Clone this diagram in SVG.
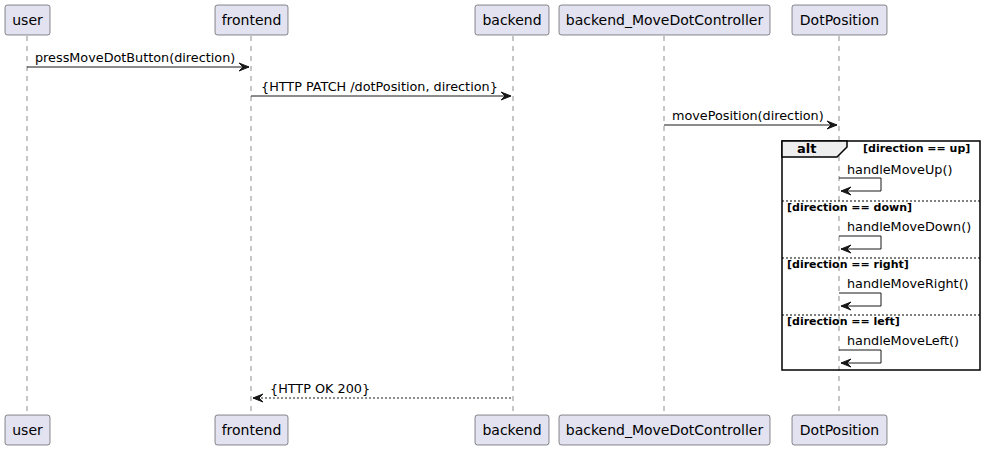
<svg xmlns="http://www.w3.org/2000/svg" width="986" height="451" viewBox="0 0 986 451">
<style>
.p rect{fill:#E2E2F0;stroke:#181818;stroke-width:0.5}
.p text{font-family:"DejaVu Sans",sans-serif;font-size:14px;fill:#000;text-anchor:middle}
.life{stroke:#181818;stroke-width:0.5;stroke-dasharray:5,5}
.msg{stroke:#181818;stroke-width:1;fill:none}
.ah{fill:#181818;stroke:#181818;stroke-width:1}
.t{font-family:"DejaVu Sans",sans-serif;font-size:12.8px;fill:#000}
.g{font-family:"DejaVu Sans",sans-serif;font-size:11px;font-weight:bold;fill:#000}
.sep{stroke:#000;stroke-width:1;stroke-dasharray:2,2}
</style>
<rect width="986" height="451" fill="#fff"/>
<g id="lifelines">
<line class="life" x1="27" y1="36" x2="27" y2="415"/>
<line class="life" x1="251" y1="36" x2="251" y2="415"/>
<line class="life" x1="513" y1="36" x2="513" y2="415"/>
<line class="life" x1="664" y1="36" x2="664" y2="415"/>
<line class="life" x1="839" y1="36" x2="839" y2="415"/>
</g>
<g id="user" class="p"><rect x="5" y="5" width="45" height="30" rx="2.5"/><text x="27.5" y="25">user</text><rect x="5" y="415" width="45" height="30" rx="2.5"/><text x="27.5" y="435">user</text></g>
<g id="frontend" class="p"><rect x="215" y="5" width="73" height="30" rx="2.5"/><text x="251.5" y="25">frontend</text><rect x="215" y="415" width="73" height="30" rx="2.5"/><text x="251.5" y="435">frontend</text></g>
<g id="backend" class="p"><rect x="475" y="5" width="74" height="30" rx="2.5"/><text x="512" y="25">backend</text><rect x="475" y="415" width="74" height="30" rx="2.5"/><text x="512" y="435">backend</text></g>
<g id="backend_MoveDotController" class="p"><rect x="559" y="5" width="211" height="30" rx="2.5"/><text x="664.5" y="25">backend_MoveDotController</text><rect x="559" y="415" width="211" height="30" rx="2.5"/><text x="664.5" y="435">backend_MoveDotController</text></g>
<g id="DotPosition" class="p"><rect x="792" y="5" width="95" height="30" rx="2.5"/><text x="839.5" y="25">DotPosition</text><rect x="792" y="415" width="95" height="30" rx="2.5"/><text x="839.5" y="435">DotPosition</text></g>
<g id="alt">
<rect x="782" y="141" width="198" height="229" fill="none" stroke="#000" stroke-width="1.5"/>
<polygon points="782,141 847,141 847,147 837,157 782,157" fill="#EEEEEE" stroke="#000" stroke-width="1.5"/>
<text x="797" y="153" class="t" style="font-weight:bold;font-size:13px">alt</text>
<text x="863" y="152" class="g">[direction == up]</text>
<line class="sep" x1="782" y1="201" x2="980" y2="201"/>
<text x="787" y="211" class="g">[direction == down]</text>
<line class="sep" x1="782" y1="258" x2="980" y2="258"/>
<text x="787" y="268" class="g">[direction == right]</text>
<line class="sep" x1="782" y1="315" x2="980" y2="315"/>
<text x="787" y="325" class="g">[direction == left]</text>
</g>
<g id="connectors">
<line class="msg" x1="27" y1="67" x2="249" y2="67"/>
<polygon class="ah" points="239,63 249,67 239,71 243,67"/>
<text x="35" y="62" class="t">pressMoveDotButton(direction)</text>
<line class="msg" x1="251" y1="96" x2="511" y2="96"/>
<polygon class="ah" points="501,92 511,96 501,100 505,96"/>
<text x="261" y="91" class="t">{HTTP PATCH /dotPosition, direction}</text>
<line class="msg" x1="664" y1="125" x2="837" y2="125"/>
<polygon class="ah" points="827,121 837,125 827,129 831,125"/>
<text x="672" y="120" class="t">movePosition(direction)</text>
<polyline class="msg" points="839,178 881,178 881,191 841,191"/>
<polygon class="ah" points="851,187 841,191 851,195 847,191"/>
<text x="847" y="174" class="t">handleMoveUp()</text>
<polyline class="msg" points="839,236 881,236 881,249 841,249"/>
<polygon class="ah" points="851,245 841,249 851,253 847,249"/>
<text x="847" y="231" class="t">handleMoveDown()</text>
<polyline class="msg" points="839,293 881,293 881,306 841,306"/>
<polygon class="ah" points="851,302 841,306 851,310 847,306"/>
<text x="847" y="288" class="t">handleMoveRight()</text>
<polyline class="msg" points="839,350 881,350 881,363 841,363"/>
<polygon class="ah" points="851,359 841,363 851,367 847,363"/>
<text x="847" y="345" class="t">handleMoveLeft()</text>
<line class="msg" x1="253" y1="398" x2="513" y2="398" stroke-dasharray="2,2"/>
<polygon class="ah" points="263,394 253,398 263,402 259,398"/>
<text x="270" y="393" class="t">{HTTP OK 200}</text>
</g>
</svg>
